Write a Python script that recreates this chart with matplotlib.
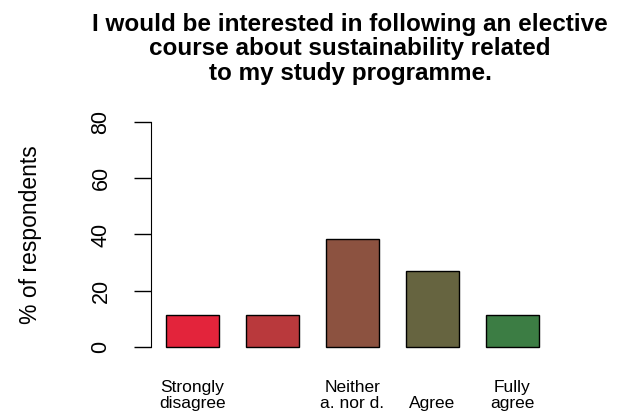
import numpy as np
import matplotlib
matplotlib.use('Agg')
import matplotlib.pyplot as plt

# Dados
categorias = ['Strongly\ndisagree', '', 'Neither\na. nor d.', '\nAgree', 'Fully\nagree']
respostas = [3, 3, 10, 7, 3]
cores = ['#E3243B', '#B9393C', '#8C5240', '#666440', '#3C7D44']
titulo = 'I would be interested in following an elective\ncourse about sustainability related\nto my study programme.'

percentuais = np.array(respostas) / sum(respostas) * 100

plt.rcParams['font.family'] = ['Liberation Sans', 'DejaVu Sans']

fig = plt.figure(figsize=(6.2, 4.15), dpi=100)
ax = fig.add_axes([0.2435, 0.1422, 0.65, 0.5855])

# posições estilo barplot do R (width=1, space=0.5)
posicoes = 1.0 + 1.5 * np.arange(len(percentuais))
ax.bar(posicoes, percentuais, width=1.0, color=cores, edgecolor='black', linewidth=1.0)

ax.set_xlim(0.22, 7.78)
ax.set_ylim(-3.2, 83.2)

# eixo y
ax.set_yticks([0, 20, 40, 60, 80])
ax.set_yticklabels(['0', '20', '40', '60', '80'], rotation=90, va='center', fontsize=15.5)
ax.tick_params(axis='y', direction='out', length=12.5, width=1, pad=16)
ax.spines['left'].set_bounds(0, 80)
for s in ['top', 'right', 'bottom']:
    ax.spines[s].set_visible(False)

# eixo x
ax.set_xticks(posicoes)
ax.set_xticklabels(categorias, fontsize=12.5, linespacing=1.1)
ax.tick_params(axis='x', length=0, pad=17.5)

fig.text(31 / 620, 0.434, '% of respondents', rotation=90, ha='center', va='center', fontsize=16.5)
fig.text(350 / 620, 0.882, titulo, ha='center', va='center', fontsize=17.5,
         fontweight='bold', linespacing=1.1)

fig.savefig('out.png', dpi=100)
